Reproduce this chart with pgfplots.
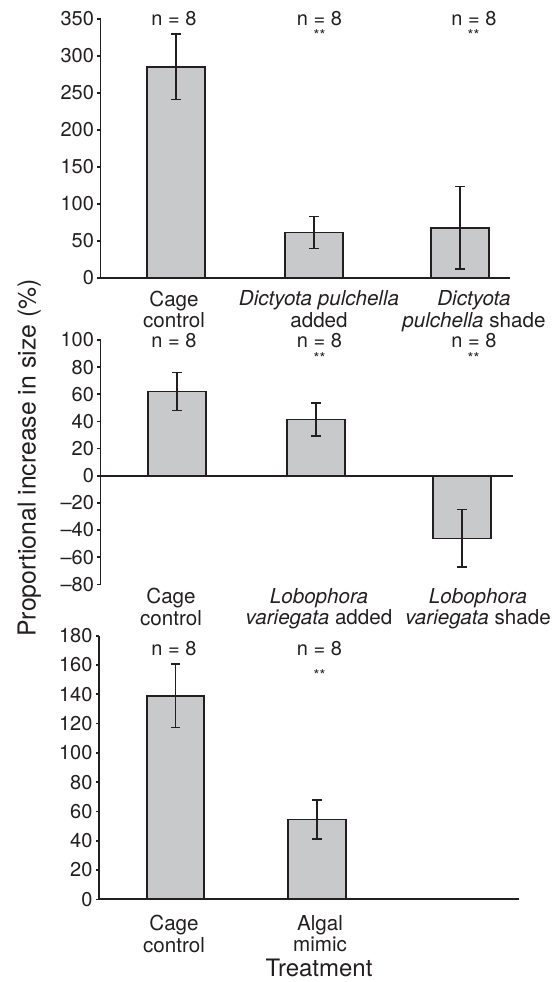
\documentclass[border=0pt]{standalone}
\usepackage{fontspec}
\setmainfont{TeX Gyre Heros}
\usepackage{pgfplots}
\pgfplotsset{compat=1.18}
\definecolor{barfill}{RGB}{200,201,203}
\definecolor{ink}{RGB}{35,31,32}
\pgfplotsset{
  panel/.style={
    scale only axis,
    anchor=south west,
    clip=false,
    axis y line=left,
    axis x line=bottom,
    axis line style={-, line width=0.9pt, ink},
    tick align=outside,
    major tick length=1.6pt,
    ytick style={line width=0.8pt, ink},
    xtick style={draw=none},
    /pgf/number format/assume math mode=true,
    yticklabel style={font=\fontsize{10}{10}\selectfont, text=ink, inner sep=1.5pt},
    xticklabel style={font=\fontsize{10.3}{9.2}\selectfont, text=ink, align=center, anchor=north},
  },
  barplot/.style={
    ybar, bar width=57.5, fill=barfill, draw=ink, line width=0.9pt,
    error bars/.cd, y dir=both, y explicit,
    error bar style={line width=0.8pt, ink},
    error mark options={rotate=90, mark size=2.3pt, line width=0.8pt, ink},
  },
}
\tikzset{
  starnode/.style={anchor=base, inner sep=0pt, text=ink, font=\fontsize{7.5}{7.5}\selectfont},
  nnode/.style={anchor=base, inner sep=1pt, text=ink, font=\fontsize{10}{10}\selectfont},
}
\begin{document}
\begin{tikzpicture}
\useasboundingbox (0,0) rectangle (277.5pt,-491pt);

% Panel 1
\begin{axis}[panel,
  at={(50.25pt,-138.85pt)}, width=204.75pt, height=129.5pt,
  xmin=100.5, xmax=510, ymin=0, ymax=350,
  ytick={0,50,100,150,200,250,300,350},
  xtick={174,319,474},
  xticklabels={Cage\\control, \textit{Dictyota pulchella}\\added, \textit{Dictyota}\\\textit{pulchella} shade},
  xticklabel style={yshift=-1.5pt},
]
\addplot[barplot] coordinates {
  (176,285) +- (0,44)
  (314,61) +- (0,21.5)
  (460,67.5) +- (0,55.5)
};
\node[nnode] at (axis cs:174,341) {n = 8};
\node[nnode] at (axis cs:319.5,341) {n = 8};
\node[nnode] at (axis cs:474,341) {n = 8};
\node[starnode] at (axis cs:319.5,320.5) {**};
\node[starnode] at (axis cs:473.5,320.5) {**};
\end{axis}

% Panel 2
\begin{axis}[panel,
  at={(50.25pt,-292.15pt)}, width=206.25pt, height=122.15pt,
  xmin=100.5, xmax=513, ymin=-80, ymax=100,
  x axis line style={draw=none},
  ytick={-80,-60,-40,-20,0,20,40,60,80,100},
  yticklabels={\textendash80,\textendash60,\textendash40,\textendash20,0,20,40,60,80,100},
  xtick={171,319,478},
  xticklabels={Cage\\control, \textit{Lobophora}\\\textit{variegata} added, \textit{Lobophora}\\\textit{variegata} shade},
  xticklabel style={yshift=3pt},
]
\draw[line width=0.9pt, ink] (axis cs:100.5,0) -- (axis cs:513,0);
\addplot[barplot] coordinates {
  (177,62) +- (0,14)
  (316,41.5) +- (0,12.2)
  (462,-46.2) +- (0,21.2)
};
\node[nnode] at (axis cs:174,94.6) {n = 8};
\node[nnode] at (axis cs:319.5,94.6) {n = 8};
\node[nnode] at (axis cs:474,94.6) {n = 8};
\node[starnode] at (axis cs:319.5,83) {**};
\node[starnode] at (axis cs:473.5,83) {**};
\end{axis}

% Panel 3
\begin{axis}[panel,
  at={(49.5pt,-449.65pt)}, width=210pt, height=131.8pt,
  xmin=99, xmax=519, ymin=0, ymax=180,
  ytick={0,20,40,60,80,100,120,140,160,180},
  xtick={174,320},
  xticklabels={Cage\\control, Algal\\mimic},
  xticklabel style={yshift=-3pt},
]
\addplot[barplot] coordinates {
  (175.5,139) +- (0,21.8)
  (317,54.5) +- (0,13.2)
};
\node[nnode] at (axis cs:174,166.8) {n = 8};
\node[nnode] at (axis cs:319.5,166.8) {n = 8};
\node[starnode] at (axis cs:319.5,149.3) {**};
\end{axis}

\node[anchor=base, rotate=90, text=ink, font=\fontsize{12.4}{12.4}\selectfont] at (17.75pt,-229pt) {Proportional increase in size (\%)};
\node[anchor=base, text=ink, font=\fontsize{12}{12}\selectfont] at (159.5pt,-488pt) {Treatment};
\end{tikzpicture}
\end{document}
